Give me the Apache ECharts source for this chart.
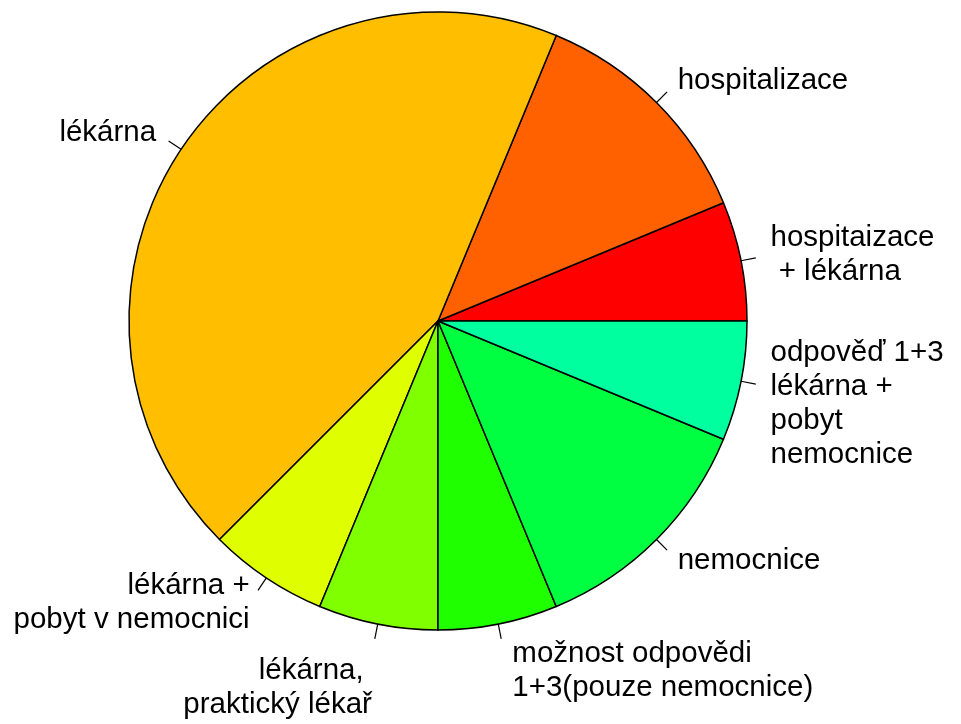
<!DOCTYPE html>
<html>
<head>
<meta charset="utf-8">
<script src="https://cdn.jsdelivr.net/npm/echarts@6/dist/echarts.min.js"></script>
<style>
  html, body { margin: 0; padding: 0; background: #fff; }
  #mainChart { width: 961px; height: 724px; }
</style>
</head>
<body>
<div id="mainChart"></div>
<script>
// slices, counter-clockwise from 3 o'clock (like R pie())
var categories = [
    'hospitaizace\n + lékárna',
    'hospitalizace',
    'lékárna',
    'lékárna +\npobyt v nemocnici',
    '\n\nlékárna, \npraktický lékař',
    '\n možnost odpovědi\n 1+3(pouze nemocnice)',
    'nemocnice',
    '\nodpověď 1+3\nlékárna +\npobyt\nnemocnice'
];
var counts = [1, 2, 7, 1, 1, 1, 2, 1];
var colors = ['#FF0000', '#FF6000', '#FFBF00', '#DFFF00', '#80FF00', '#20FF00', '#00FF40', '#00FF9F'];

var mainChart = echarts.init(document.getElementById('mainChart'));

var data = [];
for (var i = 0; i < categories.length; i++) {
    data.push({
        name: categories[i],
        value: counts[i],
        itemStyle: { color: colors[i] }
    });
}

var option = {
    animation: false,
    backgroundColor: '#ffffff',
    series: [{
        type: 'pie',
        center: [438, 321],
        radius: [0, 309],
        startAngle: 0,
        clockwise: false,
        avoidLabelOverlap: false,
        itemStyle: { borderColor: '#000', borderWidth: 1.5 },
        emphasis: { disabled: true },
        label: {
            show: true,
            position: 'outside',
            color: '#000',
            fontFamily: 'Liberation Sans, Arial, sans-serif',
            fontSize: 29.5,
            lineHeight: 34,
            distanceToLabelLine: 0
        },
        labelLine: {
            show: true,
            length: 15,
            length2: 0,
            lineStyle: { color: '#000', width: 1.2 }
        },
        // push the text one more tick length outwards, along the radius
        labelLayout: function (params) {
            var pts = params.labelLinePoints;
            if (!pts || pts.length < 2) return { hideOverlap: false };
            return {
                dx: pts[1][0] - pts[0][0],
                dy: pts[1][1] - pts[0][1],
                hideOverlap: false,
                labelLinePoints: pts
            };
        },
        data: data
    }]
};
mainChart.setOption(option);
</script>
</body>
</html>
